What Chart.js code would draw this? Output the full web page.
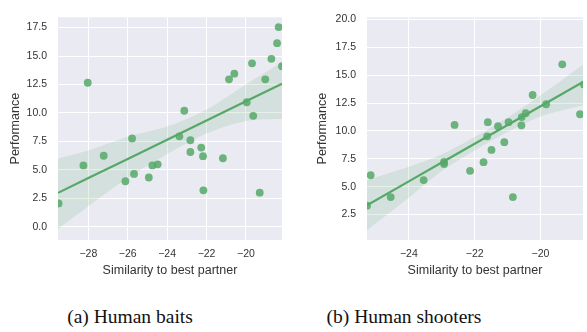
<!DOCTYPE html>
<html lang="en">
<head>
<meta charset="UTF-8">
<title>Similarity vs performance</title>
<script src="https://cdn.jsdelivr.net/npm/chart.js"></script>
<style>
  body { margin: 0; background: #fff; }
  #wrap { position: relative; width: 587px; height: 332px; }
  canvas { position: absolute; top: 0; }
  .cap { position: absolute; top: 306px; font: 19.5px "Liberation Serif", "Times New Roman", serif; color: #111; transform: translateX(-50%); white-space: nowrap; }
</style>
</head>
<body>
<div id="wrap">
  <canvas id="baits" width="290" height="285" style="left:0"></canvas>
  <canvas id="shooters" width="294" height="285" style="left:293px"></canvas>
  <div class="cap" style="left:130px">(a) Human baits</div>
  <div class="cap" style="left:404px">(b) Human shooters</div>
</div>
<script>
// (a) human baits
const baitsX = [-29.51, -28.25, -28.03, -27.22, -26.12, -25.78, -25.68, -24.93, -24.75, -24.48, -23.38, -23.13, -22.82, -22.82, -22.27, -22.18, -22.16, -21.17, -20.86, -20.59, -19.96, -19.69, -19.63, -19.30, -19.02, -18.71, -18.42, -18.34, -18.17];
const baitsY = [2.05, 5.39, 12.65, 6.24, 4.0, 7.76, 4.64, 4.33, 5.39, 5.49, 7.95, 10.19, 7.6, 6.57, 6.96, 6.2, 3.2, 6.02, 12.95, 13.45, 10.94, 14.36, 9.75, 3.0, 12.95, 14.75, 16.13, 17.54, 14.11];
// fitted line and confidence band
const baitsFitX = [-29.54, -28, -26, -24, -22, -20, -18.17];
const baitsFit  = [2.98, 4.28, 5.96, 7.65, 9.34, 11.02, 12.57];
const baitsHi   = [6.0, 6.7, 7.9, 8.8, 10.3, 12.5, 14.45];
const baitsLo   = [-0.2, 1.8, 4.3, 6.4, 8.2, 9.3, 9.5];
const baitsXTicks = [-28, -26, -24, -22, -20];
const baitsYTicks = [0, 2.5, 5, 7.5, 10, 12.5, 15, 17.5];

// (b) human shooters
const shootX = [-25.27, -25.16, -24.55, -23.55, -22.93, -22.93, -22.61, -22.14, -21.73, -21.62, -21.60, -21.49, -21.29, -21.10, -20.97, -20.84, -20.58, -20.57, -20.45, -20.24, -19.83, -19.34, -18.80, -18.68];
const shootY = [3.3, 6.03, 4.07, 5.6, 7.22, 7.03, 10.54, 6.43, 7.2, 9.52, 10.79, 8.3, 10.43, 9.0, 10.79, 4.07, 10.51, 11.25, 11.6, 13.23, 12.4, 15.98, 11.5, 14.17];
const shootFitX = [-25.27, -24, -23, -22, -21, -20, -18.71];
const shootFit  = [3.34, 5.48, 7.17, 8.85, 10.54, 12.22, 14.4];
const shootHi   = [5.6, 6.8, 7.9, 9.45, 11.2, 13.2, 15.95];
const shootLo   = [1.1, 4.0, 6.4, 8.25, 9.9, 11.3, 12.3];
const shootXTicks = [-24, -22, -20];
const shootYTicks = [2.5, 5, 7.5, 10, 12.5, 15, 17.5, 20];

const green = '#55A868';
const sans = '"Liberation Sans", Arial, sans-serif';

const bgPlugin = {
  id: 'bg',
  beforeDraw(chart) {
    const a = chart.chartArea, c = chart.ctx;
    c.save();
    c.fillStyle = '#EAEAF2';
    c.fillRect(a.left, a.top, a.right - a.left, a.bottom - a.top);
    c.restore();
  }
};

function pts(xs, ys) {
  return xs.map((x, i) => ({ x: x, y: ys[i] }));
}

function makeChart(id, cfg) {
  return new Chart(document.getElementById(id), {
    type: 'scatter',
    data: {
      datasets: [
        { data: pts(cfg.x, cfg.y), backgroundColor: 'rgba(85,168,104,0.85)', borderWidth: 0, pointRadius: 3.9, order: 1 },
        { data: pts(cfg.fitX, cfg.fit), showLine: true, borderColor: green, borderWidth: 2.2, pointRadius: 0, order: 2 },
        { data: pts(cfg.fitX, cfg.hi), showLine: true, borderWidth: 0, pointRadius: 0, tension: 0.3,
          fill: '+1', backgroundColor: 'rgba(85,168,104,0.15)', order: 3 },
        { data: pts(cfg.fitX, cfg.lo), showLine: true, borderWidth: 0, pointRadius: 0, tension: 0.3, order: 3 }
      ]
    },
    options: {
      responsive: false,
      animation: false,
      layout: { padding: cfg.pad },
      plugins: { legend: { display: false }, tooltip: { enabled: false } },
      scales: {
        x: {
          min: cfg.xMin, max: cfg.xMax,
          afterBuildTicks: s => { s.ticks = cfg.xTicks.map(v => ({ value: v })); },
          afterFit: s => { s.height = 45; },
          grid: { color: '#fff', lineWidth: 1, drawTicks: false },
          border: { display: false },
          ticks: { padding: 8, color: '#333', font: { family: sans, size: 10.5 },
                   callback: v => String(v).replace('-', '\u2212') },
          title: { display: true, text: 'Similarity to best partner', color: '#333',
                   font: { family: sans, size: 12.5 }, padding: { top: 0, bottom: 6.5 } }
        },
        y: {
          min: cfg.yMin, max: cfg.yMax,
          afterBuildTicks: s => { s.ticks = cfg.yTicks.map(v => ({ value: v })); },
          afterFit: s => { s.width = cfg.yWidth; },
          grid: { color: '#fff', lineWidth: 1, drawTicks: false },
          border: { display: false },
          ticks: { padding: 11, color: '#333', font: { family: sans, size: 10.5 },
                   callback: v => v.toFixed(1) },
          title: { display: true, text: 'Performance', color: '#333',
                   font: { family: sans, size: 12.5 }, padding: { top: cfg.titlePad, bottom: 0 } }
        }
      }
    },
    plugins: [bgPlugin]
  });
}

makeChart('baits', {
  x: baitsX, y: baitsY, fitX: baitsFitX, fit: baitsFit, hi: baitsHi, lo: baitsLo,
  xTicks: baitsXTicks, yTicks: baitsYTicks,
  xMin: -29.54, xMax: -18.17, yMin: -1.16, yMax: 18.4,
  pad: { top: 4, right: 8, left: 0, bottom: 0 }, yWidth: 58, titlePad: 8.5
});

makeChart('shooters', {
  x: shootX, y: shootY, fitX: shootFitX, fit: shootFit, hi: shootHi, lo: shootLo,
  xTicks: shootXTicks, yTicks: shootYTicks,
  xMin: -25.27, xMax: -18.71, yMin: 0.22, yMax: 20.2,
  pad: { top: 5, right: 0, left: 0, bottom: 0 }, yWidth: 74, titlePad: 22.5
});
</script>
</body>
</html>
